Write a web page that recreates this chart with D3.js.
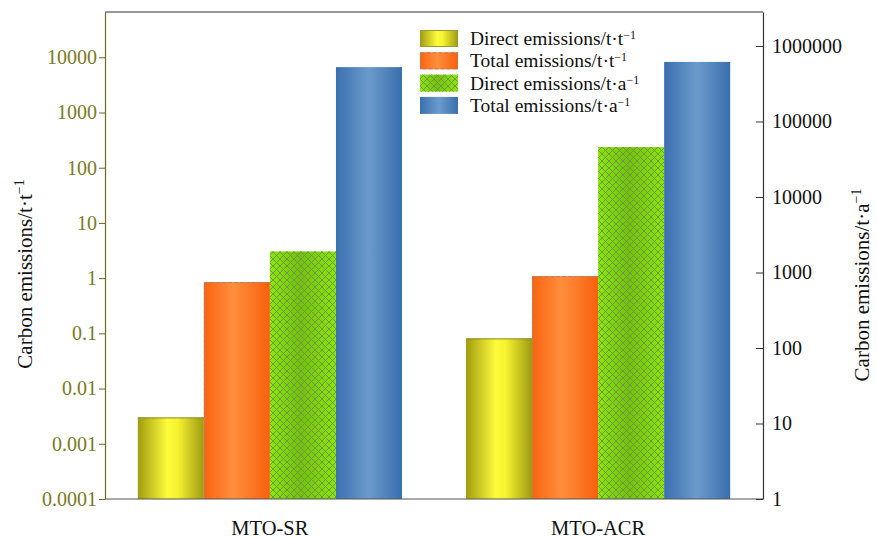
<!DOCTYPE html>
<html><head><meta charset="utf-8">
<script src="https://cdn.jsdelivr.net/npm/d3@7"></script>
<style>body{margin:0;background:#fff}svg{display:block}text{font-family:"Liberation Serif","DejaVu Serif",serif}</style>
</head><body>
<svg id="c" width="877" height="539"></svg>
<script>
const categories = ["MTO-SR", "MTO-ACR"];
const seriesNames = ["Direct emissions/t\u00b7t", "Total emissions/t\u00b7t", "Direct emissions/t\u00b7a", "Total emissions/t\u00b7a"];
const seriesAxis = ["left", "left", "right", "right"];
const directTT = [0.003, 0.081];
const totalTT = [0.85, 1.09];
const directTA = [1900, 45800];
const totalTA = [525000, 615000];
const leftTicks = [0.0001, 0.001, 0.01, 0.1, 1, 10, 100, 1000, 10000];
const rightTicks = [1, 10, 100, 1000, 10000, 100000, 1000000];
const seriesValues = [directTT, totalTT, directTA, totalTA];

const svg = d3.select("#c");
const L = 105, R = 763, T = 12, B = 499;
const yL = d3.scaleLog().domain([1e-4, Math.pow(10, 4.82)]).range([B, T]);
const yR = d3.scaleLog().domain([1, Math.pow(10, 6.45)]).range([B, T]);
const x0 = d3.scaleBand().domain(categories).range([L, R]).paddingInner(0.195).paddingOuter(0.1);
const x1 = d3.scaleBand().domain(d3.range(4)).range([0, x0.bandwidth()]);

const defs = svg.append("defs");
function hgrad(id, stops) {
  const g = defs.append("linearGradient").attr("id", id).attr("x1", "0%").attr("x2", "100%").attr("y1", "0%").attr("y2", "0%");
  stops.forEach(s => g.append("stop").attr("offset", s[0]).attr("stop-color", s[1]));
}
hgrad("gY", [["0%", "#a09c10"], ["45%", "#fdfb3a"], ["60%", "#f6f330"], ["100%", "#9e9a12"]]);
hgrad("gO", [["0%", "#fa6410"], ["45%", "#ff8e3c"], ["100%", "#f8600c"]]);
hgrad("gG", [["0%", "#8ae800"], ["45%", "#72c400"], ["100%", "#8ae800"]]);
hgrad("gB", [["0%", "#3b70b0"], ["50%", "#6b9bcc"], ["100%", "#3a6fae"]]);
const pat = defs.append("pattern").attr("id", "hatch").attr("patternUnits", "userSpaceOnUse").attr("width", 7).attr("height", 7);
pat.append("path").attr("d", "M0,0L7,7M7,0L0,7M-1,6L1,8M6,-1L8,1M6,8L8,6M-1,1L1,-1").attr("stroke", "#6f8f5a").attr("stroke-width", 0.9).attr("fill", "none");
const fills = ["url(#gY)", "url(#gO)", "url(#gG)", "url(#gB)"];

// bars
const data = [];
categories.forEach((c, ci) => seriesValues.forEach((vals, si) => data.push({c, si, v: vals[ci]})));
const g = svg.append("g");
data.forEach(d => {
  const y = seriesAxis[d.si] === "left" ? yL : yR;
  const xx = x0(d.c) + x1(d.si), w = x1.bandwidth(), yy = y(d.v);
  g.append("rect").attr("x", xx).attr("y", yy).attr("width", w).attr("height", B - yy).attr("fill", fills[d.si]);
  if (d.si === 2) g.append("rect").attr("x", xx).attr("y", yy).attr("width", w).attr("height", B - yy).attr("fill", "url(#hatch)");
  if (d.si === 0) g.append("line").attr("x1", xx).attr("x2", xx + w).attr("y1", yy + 0.5).attr("y2", yy + 0.5).attr("stroke", "#8a8a30").attr("stroke-width", 1);
  if (d.si === 1) g.append("path").attr("d", `M${xx + 0.5},${B}V${yy + 0.5}H${xx + w}`).attr("fill", "none").attr("stroke", "#b08070").attr("stroke-width", 1).attr("stroke-dasharray", "4,2");
});

// frame
svg.append("line").attr("x1", L).attr("x2", R).attr("y1", T).attr("y2", T).attr("stroke", "#333").attr("stroke-width", 1);
svg.append("line").attr("x1", L).attr("x2", R).attr("y1", B).attr("y2", B).attr("stroke", "#555").attr("stroke-width", 1.2);

// left axis
const fmt = d => String(+d.toPrecision(6));
const la = svg.append("g").attr("transform", `translate(${L},0)`)
  .call(d3.axisLeft(yL).tickValues(leftTicks).tickFormat(fmt).tickSize(6).tickSizeOuter(0));
la.select(".domain").attr("stroke", "#6b6b22").attr("stroke-width", 1.2);
la.selectAll(".tick line").attr("stroke", "#6b6b22");
la.selectAll(".tick text").attr("fill", "#7c7a1e").attr("font-size", 20).attr("font-family", "Liberation Serif").attr("x", -8);

// right axis
const ra = svg.append("g").attr("transform", `translate(${R},0)`)
  .call(d3.axisRight(yR).tickValues(rightTicks).tickFormat(fmt).tickSize(0).tickSizeOuter(0));
ra.select(".domain").attr("stroke", "#333").attr("stroke-width", 1.2);
ra.selectAll(".tick").append("line").attr("x1", -7).attr("x2", 0).attr("stroke", "#333");
ra.selectAll(".tick text").attr("fill", "#111").attr("font-size", 20).attr("font-family", "Liberation Serif").attr("x", 9);

// category labels
categories.forEach(c => svg.append("text").attr("x", x0(c) + x0.bandwidth() / 2).attr("y", 535).attr("text-anchor", "middle")
  .attr("font-size", 20.5).attr("fill", "#111").text(c));

// axis titles
function titleSup(sel, base) {
  sel.append("tspan").text(base);
  sel.append("tspan").attr("dy", -8).attr("font-size", 14).text("\u22121");
}
const lt = svg.append("text").attr("transform", "translate(32,274) rotate(-90)").attr("text-anchor", "middle").attr("font-size", 21).attr("fill", "#111");
titleSup(lt, "Carbon emissions/t\u00b7t");
const rt = svg.append("text").attr("transform", "translate(869,285) rotate(-90)").attr("text-anchor", "middle").attr("font-size", 21).attr("fill", "#111");
titleSup(rt, "Carbon emissions/t\u00b7a");

// legend
const lg = svg.append("g").attr("transform", "translate(420,30)");
seriesNames.forEach((n, i) => {
  const yy = i * 22.3;
  lg.append("rect").attr("x", 0).attr("y", yy).attr("width", 38).attr("height", 17).attr("fill", fills[i]);
  if (i === 2) lg.append("rect").attr("x", 0).attr("y", yy).attr("width", 38).attr("height", 17).attr("fill", "url(#hatch)");
  if (i === 1) lg.append("rect").attr("x", 0.5).attr("y", yy + 0.5).attr("width", 37).attr("height", 16).attr("fill", "none").attr("stroke", "#c07a5a").attr("stroke-dasharray", "4,2");
  if (i === 0) lg.append("rect").attr("x", 0.5).attr("y", yy + 0.5).attr("width", 37).attr("height", 16).attr("fill", "none").attr("stroke", "#9a9a30");
  const t = lg.append("text").attr("x", 50).attr("y", yy + 15).attr("font-size", 19.5).attr("fill", "#111");
  t.append("tspan").text(n);
  t.append("tspan").attr("dy", -6).attr("font-size", 12).text("\u22121");
});
</script>
</body></html>
